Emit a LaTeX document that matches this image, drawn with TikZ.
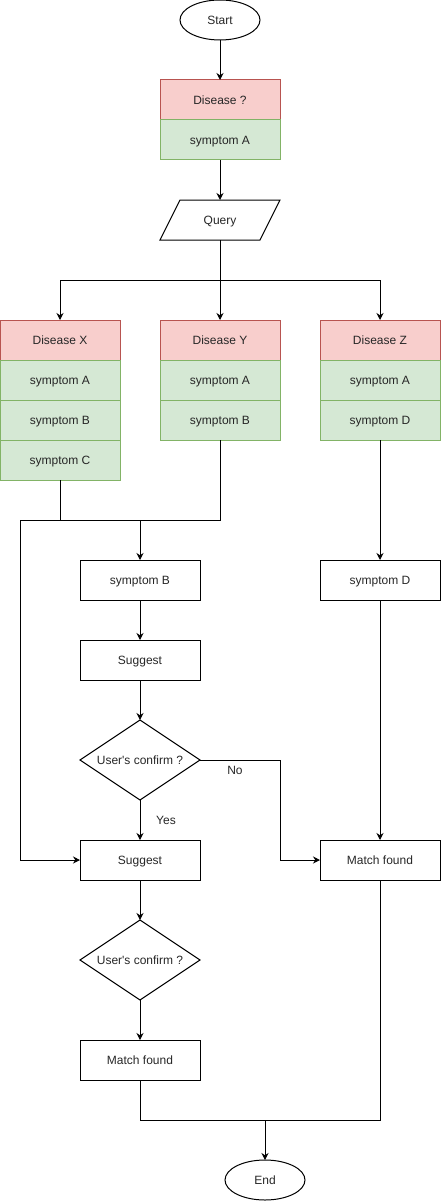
\documentclass[tikz,border=0pt]{standalone}
\usepackage{fontspec}
\setmainfont{Liberation Sans}
\usetikzlibrary{arrows.meta,shapes.geometric}
\definecolor{redfill}{HTML}{F8CECC}
\definecolor{redline}{HTML}{B85450}
\definecolor{greenfill}{HTML}{D5E8D4}
\definecolor{greenline}{HTML}{82B366}
\tikzset{
  base/.style={line width=1pt, inner sep=0pt, outer sep=0pt, font=\fontsize{12pt}{14pt}\selectfont, text=black!85, text height=8.6pt, text depth=0pt},
  plainbox/.style={base, draw, rectangle, minimum width=120pt, minimum height=40pt},
  redbox/.style={plainbox, draw=redline, fill=redfill},
  greenbox/.style={plainbox, draw=greenline, fill=greenfill},
  term/.style={base, draw, ellipse, minimum width=80pt, minimum height=40pt},
  decide/.style={base, draw, diamond, aspect=1.5, minimum width=120pt, minimum height=80pt},
  arr/.style={line width=1pt, -{Stealth[length=7pt,width=7pt]}},
  ln/.style={line width=1pt},
  lbl/.style={font=\fontsize{12pt}{14pt}\selectfont, text=black!85, inner sep=0pt}
}
\begin{document}
\begin{tikzpicture}[x=1pt,y=-1pt]
\useasboundingbox (0,0) rectangle (442,1201);
% top
\node[term] (start) at (220,20) {Start};
\node[redbox] (dq) at (220,100) {Disease ?};
\node[greenbox] (dqa) at (220,140) {symptom A};
\node[base, rectangle, minimum width=120pt, minimum height=40pt] (q) at (220,220) {Query};
\draw[ln, line join=miter] (q.south west) -- ([xshift=20pt]q.north west) -- (q.north east) -- ([xshift=-20pt]q.south east) -- cycle;
% disease X
\node[redbox] (dx) at (60,340) {Disease X};
\node[greenbox] (dxa) at (60,380) {symptom A};
\node[greenbox] (dxb) at (60,420) {symptom B};
\node[greenbox] (dxc) at (60,460) {symptom C};
% disease Y
\node[redbox] (dy) at (220,340) {Disease Y};
\node[greenbox] (dya) at (220,380) {symptom A};
\node[greenbox] (dyb) at (220,420) {symptom B};
% disease Z
\node[redbox] (dz) at (380,340) {Disease Z};
\node[greenbox] (dza) at (380,380) {symptom A};
\node[greenbox] (dzd) at (380,420) {symptom D};
% middle column
\node[plainbox] (sb) at (140,580) {symptom B};
\node[plainbox] (sg1) at (140,660) {Suggest};
\node[decide] (c1) at (140,760) {User\textquotesingle s confirm ?};
\node[plainbox] (sg2) at (140,860) {Suggest};
\node[decide] (c2) at (140,960) {User\textquotesingle s confirm ?};
\node[plainbox] (mf1) at (140,1060) {Match found};
% right column
\node[plainbox] (sd) at (380,580) {symptom D};
\node[plainbox] (mf2) at (380,860) {Match found};
% end
\node[term] (end) at (265,1180) {End};
% labels
\node[lbl] (no) at (235,770) {No};
\node[lbl] (yes) at (166,820) {Yes};
% coordinates
\coordinate (br) at (220,280);
\coordinate (jL) at (20,520);
\coordinate (jM) at (140,520);
\coordinate (nb) at (280,760);
\coordinate (jb) at (265,1120);
% connectors
\draw[arr] (start) -- (dq);
\draw[arr] (dqa) -- (q);
\draw[arr] (q.south) -- (dy);
\draw[arr] (br) -| (dx.north);
\draw[arr] (br) -| (dz.north);
\draw[ln] (dxc.south) |- (jL);
\draw[ln] (dyb.south) |- (jL);
\draw[arr] (jM) -- (sb);
\draw[arr] (jL) |- (sg2.west);
\draw[arr] (sb) -- (sg1);
\draw[arr] (sg1) -- (c1);
\draw[arr] (c1) -- (sg2);
\draw[ln] (c1.east) -- (nb);
\draw[arr] (nb) |- (mf2.west);
\draw[arr] (sg2) -- (c2);
\draw[arr] (c2) -- (mf1);
\draw[arr] (dzd) -- (sd);
\draw[arr] (sd) -- (mf2);
\draw[ln] (mf1.south) |- (jb);
\draw[ln] (mf2.south) |- (jb);
\draw[arr] (jb) -- (end);
\end{tikzpicture}
\end{document}
